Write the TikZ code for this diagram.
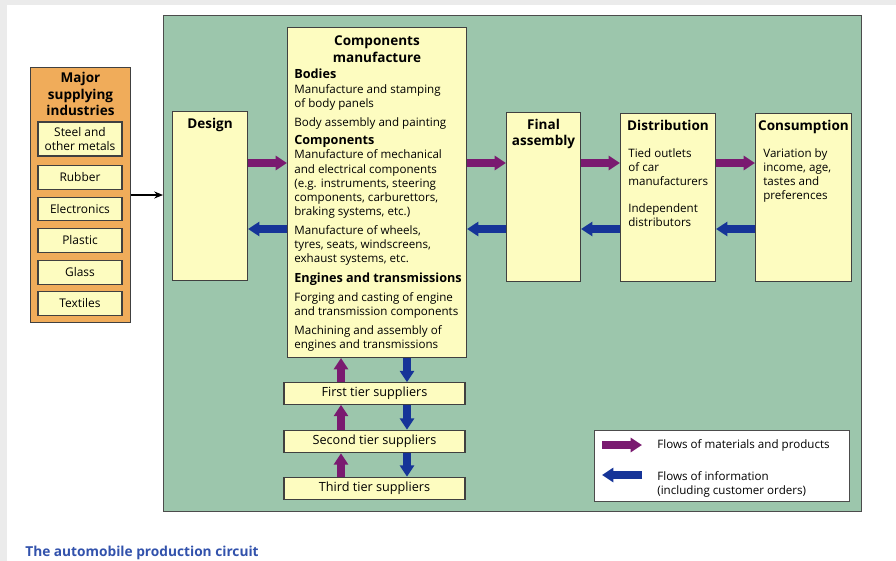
\documentclass[tikz,border=0pt]{standalone}
\usepackage{fontspec}
\setmainfont{Open Sans}
\usetikzlibrary{arrows.meta,positioning}

\definecolor{panelgreen}{RGB}{156,198,172}
\definecolor{boxyellow}{RGB}{253,252,192}
\definecolor{supplyorange}{RGB}{240,172,90}
\definecolor{matpurple}{RGB}{122,26,112}
\definecolor{infoblue}{RGB}{22,52,152}
\definecolor{captionblue}{RGB}{50,82,172}

\tikzset{
  box/.style={draw=black!75, line width=0.6pt, fill=boxyellow, inner sep=0pt},
  title/.style={font=\fontsize{7.7}{9.2}\selectfont\bfseries, align=center, inner sep=0pt},
  body/.style={font=\fontsize{6.6}{8.1}\selectfont, align=left, inner sep=0pt},
  item/.style={box, minimum width=1.68cm, minimum height=0.47cm, align=center,
    font=\fontsize{6.8}{7.6}\selectfont},
  tierbox/.style={box, minimum width=3.62cm, minimum height=0.45cm,
    font=\fontsize{7.2}{8}\selectfont},
  matflow/.style={draw=matpurple, line width=4.5pt, -{Triangle[width=8pt,length=6.5pt]}},
  infoflow/.style={draw=infoblue, line width=4.5pt, -{Triangle[width=8pt,length=6.5pt]}}
}

\begin{document}
\begin{tikzpicture}[x=0.02cm, y=-0.02cm]
\useasboundingbox (0,0) rectangle (896,561);
\fill[black!8] (0,0) rectangle (896,561);
\fill[white] (7,5) rectangle (896,561);

% green panel
\node[draw=black!70, line width=0.6pt, fill=panelgreen, minimum width=13.96cm,
  minimum height=9.92cm, anchor=north west] (panel) at (163,15) {};

% supplying industries
\node[draw=black!75, line width=0.6pt, fill=supplyorange, minimum width=2cm,
  minimum height=5.1cm, anchor=north west] (major) at (30,67) {};
\node[title, below=3pt of major.north] (majortitle) {Major\\supplying\\industries};
\node[item, minimum height=0.68cm] (steel) at (80,139) {Steel and\\other metals};
\node[item] (rubber) at (80,177.5) {Rubber};
\node[item] (electronics) at (80,209) {Electronics};
\node[item] (plastic) at (80,240.5) {Plastic};
\node[item] (glass) at (80,272.5) {Glass};
\node[item] (textiles) at (80,303.5) {Textiles};
\draw[-{Stealth[length=5pt,width=4pt]}, line width=0.6pt] (major.east) -- (major.east -| panel.west);

% main chain
\node[box, minimum width=1.5cm, minimum height=3.38cm, anchor=north west] (design) at (172,111) {};
\node[title, below=4pt of design.north] (designtitle) {Design};

\node[box, minimum width=3.58cm, minimum height=6.6cm, anchor=north west] (comp) at (287,27) {};
\node[title, below=5pt of comp.north] (comptitle) {Components\\manufacture};
\node[body, anchor=north west] (compbody) at (294,69) {%
  {\fontsize{7.2}{8.6}\selectfont\bfseries Bodies}\\
  Manufacture and stamping\\ of body panels\\[2.5pt]
  Body assembly and painting\\[2.5pt]
  {\fontsize{7.2}{8.6}\selectfont\bfseries Components}\\
  Manufacture of mechanical\\ and electrical components\\
  (e.g. instruments, steering\\ components, carburettors,\\ braking systems, etc.)\\[2.5pt]
  Manufacture of wheels,\\ tyres, seats, windscreens,\\ exhaust systems, etc.\\[2.8pt]
  {\fontsize{7.2}{8.6}\selectfont\bfseries Engines and transmissions}\\[2.8pt]
  Forging and casting of engine\\ and transmission components\\[2.5pt]
  Machining and assembly of\\ engines and transmissions};

\node[box, minimum width=1.48cm, minimum height=3.38cm, anchor=north west] (final) at (506,112) {};
\node[title, below=4pt of final.north] (finaltitle) {Final\\assembly};

\node[box, minimum width=1.9cm, minimum height=3.36cm, anchor=north west] (dist) at (620,113) {};
\node[title, below=4pt of dist.north] (disttitle) {Distribution};
\node[body, anchor=north west] (distbody) at (628,148) {Tied outlets\\ of car\\ manufacturers\\[7pt]
  Independent\\ distributors};

\node[box, minimum width=1.92cm, minimum height=3.36cm, anchor=north west] (cons) at (755,113) {};
\node[title, below=4pt of cons.north] (constitle) {Consumption};
\node[body, anchor=north west] (consbody) at (763,148) {Variation by\\ income, age,\\ tastes and\\ preferences};

% flows between the stages
\coordinate (matrow) at (0,163);
\coordinate (inforow) at (0,229);
\draw[matflow] (matrow -| design.east) -- (matrow -| comp.west);
\draw[infoflow] (inforow -| comp.west) -- (inforow -| design.east);
\draw[matflow] (matrow -| comp.east) -- (matrow -| final.west);
\draw[infoflow] (inforow -| final.west) -- (inforow -| comp.east);
\draw[matflow] (matrow -| final.east) -- (matrow -| dist.west);
\draw[infoflow] (inforow -| dist.west) -- (inforow -| final.east);
\draw[matflow] (matrow -| dist.east) -- (matrow -| cons.west);
\draw[infoflow] (inforow -| cons.west) -- (inforow -| dist.east);

% tiers of suppliers
\node[tierbox, minimum height=0.43cm] (tier1) at (374.5,393.5) {First tier suppliers};
\node[tierbox] (tier2) at (374.5,441.5) {Second tier suppliers};
\node[tierbox] (tier3) at (374.5,488.5) {Third tier suppliers};
\coordinate (upline) at (341,0);
\coordinate (downline) at (407,0);
\draw[matflow] (upline |- tier1.north) -- (upline |- comp.south);
\draw[infoflow] (downline |- comp.south) -- (downline |- tier1.north);
\draw[matflow] (upline |- tier2.north) -- (upline |- tier1.south);
\draw[infoflow] (downline |- tier1.south) -- (downline |- tier2.north);
\draw[matflow] (upline |- tier3.north) -- (upline |- tier2.south);
\draw[infoflow] (downline |- tier2.south) -- (downline |- tier3.north);

% legend
\node[draw=black!70, line width=0.6pt, fill=white, minimum width=5.1cm, minimum height=1.42cm,
  anchor=north west] (legend) at (594,430) {};
\coordinate (matstart) at (602,445);
\coordinate (matend) at (642,445);
\coordinate (infostart) at (642,475);
\coordinate (infoend) at (602,475);
\draw[matflow] (matstart) -- (matend);
\draw[infoflow] (infostart) -- (infoend);
\node[body, anchor=west] (matlabel) at (657,445) {Flows of materials and products};
\node[body, anchor=north west] (infolabel) at (657,471) {Flows of information\\ (including customer orders)};

% caption
\node[anchor=base west, inner sep=0pt, text=captionblue, font=\fontsize{7.8}{10}\selectfont\bfseries]
  (caption) at (25,556) {The automobile production circuit};
\end{tikzpicture}
\end{document}
